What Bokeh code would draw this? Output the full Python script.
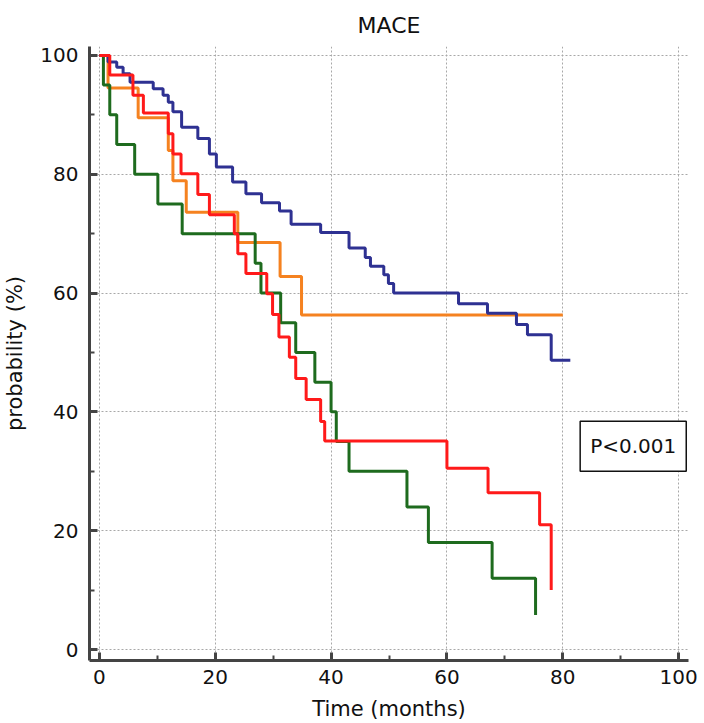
from bokeh.plotting import figure
from bokeh.models import FixedTicker, Label, Range1d
from bokeh.embed import file_html
from bokeh.resources import INLINE

# Kaplan-Meier step data (months, survival %)
blue_t = [0, 1.5, 3.0, 4.1, 5.3, 9.3, 11.0, 11.9, 12.7, 14.2, 17.0, 19.0, 20.2, 23.0, 25.3,
          28.0, 31.1, 33.1, 38.2, 43.1, 45.9, 46.8, 49.1, 49.9, 50.8, 62.0, 67.0, 72.0, 73.9, 78.0, 81.3]
blue_s = [100, 98.9, 98.0, 96.9, 95.5, 94.4, 93.3, 92.1, 90.5, 87.9, 86.0, 83.4, 81.2, 78.7, 76.7,
          75.2, 73.8, 71.6, 70.2, 67.6, 66.0, 64.5, 63.1, 61.6, 60.0, 58.2, 56.6, 54.7, 53.0, 48.7, 48.7]

orange_t = [0, 1.5, 6.7, 11.9, 12.7, 15.0, 23.9, 31.2, 34.9, 80.0]
orange_s = [100, 94.5, 89.5, 84.0, 78.9, 73.6, 68.5, 62.8, 56.3, 56.3]

red_t = [0, 1.8, 5.8, 7.6, 11.9, 12.7, 14.1, 17.0, 19.0, 23.3, 23.9, 25.3, 28.9, 29.9, 31.0,
         32.8, 33.9, 35.7, 38.2, 38.9, 60.0, 67.1, 76.0, 78.0]
red_s = [100, 96.7, 93.3, 90.3, 86.8, 83.4, 80.1, 76.6, 73.2, 70.0, 66.6, 63.3, 59.9, 56.4, 52.6,
         49.2, 45.6, 42.1, 38.4, 35.1, 30.5, 26.4, 21.0, 10.0]

green_t = [0, 0.7, 1.8, 3.0, 6.1, 10.1, 14.3, 26.9, 27.9, 31.3, 33.9, 37.2, 40.0, 40.9, 43.1,
           53.1, 56.8, 67.8, 75.3]
green_s = [100, 95, 90, 85, 80, 75, 70, 65, 60, 55, 50, 45, 40, 35, 30, 24, 18, 12, 5.8]

x_ticks = [0, 20, 40, 60, 80, 100]
x_minor = [10, 30, 50, 70, 90]
y_ticks = [0, 20, 40, 60, 80, 100]
y_minor = [10, 30, 50, 70, 90]

title_text = "MACE"
x_label = "Time (months)"
y_label = "probability (%)"
p_text = "P<0.001"

FONT = "DejaVu Sans"

p = figure(width=704, height=723,
           x_range=Range1d(-1.7, 101.7), y_range=Range1d(-1.85, 101.5),
           output_backend="svg", toolbar_location=None,
           min_border_left=86, min_border_right=16, min_border_top=46, min_border_bottom=63,
           title=title_text)
p.outline_line_color = None
p.title.align = "center"
p.title.text_font = FONT
p.title.text_font_size = "22px"
p.title.text_font_style = "normal"
p.title.text_color = "#111111"
p.title.standoff = 18

for ax, ticks, minor, lab in ((p.xaxis[0], x_ticks, x_minor, x_label), (p.yaxis[0], y_ticks, y_minor, y_label)):
    ax.ticker = FixedTicker(ticks=ticks, minor_ticks=minor)
    ax.axis_label = lab
    ax.axis_line_width = 3
    ax.axis_line_color = "#444444"
    ax.major_tick_line_color = "#444444"
    ax.major_tick_line_width = 3
    ax.major_tick_in = 8
    ax.major_tick_out = 0
    ax.minor_tick_line_color = "#444444"
    ax.minor_tick_line_width = 2
    ax.minor_tick_in = 5
    ax.minor_tick_out = 0
    ax.major_label_text_font = FONT
    ax.major_label_text_font_size = "20px"
    ax.major_label_text_color = "#111111"
    ax.axis_label_text_font = FONT
    ax.axis_label_text_font_style = "normal"
    ax.axis_label_text_color = "#111111"

p.xaxis.major_label_standoff = 9
p.xaxis.axis_label_text_font_size = "21px"
p.xaxis.axis_label_standoff = 10
p.yaxis.major_label_standoff = 11
p.yaxis.axis_label_text_font_size = "21px"
p.yaxis.axis_label_standoff = 10

for g in (p.xgrid[0], p.ygrid[0]):
    g.grid_line_color = "#a8a8a8"
    g.grid_line_dash = "2 2"
    g.grid_line_width = 1
p.xgrid.ticker = FixedTicker(ticks=x_ticks)
p.ygrid.ticker = FixedTicker(ticks=y_ticks)

p.step(orange_t, orange_s, mode="after", line_color="#f58220", line_width=3)
p.step(green_t, green_s, mode="after", line_color="#1e6b1e", line_width=3)
p.step(blue_t, blue_s, mode="after", line_color="#2e3192", line_width=3)
p.step(red_t, red_s, mode="after", line_color="#ff1a1a", line_width=3)

lab = Label(x=83.0, y=34.2, text=p_text, text_font=FONT, text_font_size="20px",
            text_align="left", text_baseline="middle", text_color="#111111",
            border_line_color="#111111", border_line_width=1.5,
            background_fill_color="white",
            padding=dict(left=10, right=10, top=13, bottom=13))
p.add_layout(lab)

open("out.html", "w").write(file_html(p, INLINE))
